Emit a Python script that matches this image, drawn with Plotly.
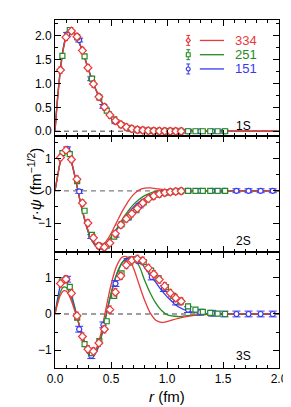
import plotly.graph_objects as go
from plotly.subplots import make_subplots

W, H = 291, 407
ML, MR, MT, MB = 47, 12, 11, 47
PW, PH = W - ML - MR, H - MT - MB

RED, GREEN, BLUE = '#e8393b', '#238b23', '#3838ee'
series_labels = ['334', '251', '151']
colors = [RED, GREEN, BLUE]

# ---- curve grid (fm) ----
r_curve = [0, 0.025, 0.05, 0.075, 0.1, 0.125, 0.15, 0.175, 0.2, 0.225, 0.25, 0.275, 0.3, 0.325,
           0.35, 0.375, 0.4, 0.425, 0.45, 0.475, 0.5, 0.55, 0.6, 0.65, 0.7, 0.75, 0.8, 0.85, 0.9,
           0.95, 1.0, 1.1, 1.2, 1.3, 1.4, 1.5, 2.0]

# 1S curves
c1_red = [0, 0.72, 1.30, 1.72, 1.97, 2.09, 2.10, 2.05, 1.95, 1.81, 1.65, 1.47, 1.29, 1.12, 0.96, 0.82, 0.69, 0.58, 0.48, 0.39, 0.32,
          0.20, 0.12, 0.075, 0.045, 0.027, 0.016, 0.009, 0.005, 0.003, 0.002, 0.001, 0, 0, 0, 0, 0]
c1_green = [0, 0.74, 1.32, 1.74, 1.99, 2.11, 2.11, 2.06, 1.95, 1.81, 1.65, 1.47, 1.29, 1.12, 0.96, 0.82, 0.69, 0.58, 0.48, 0.39, 0.32,
            0.20, 0.12, 0.075, 0.045, 0.027, 0.016, 0.009, 0.005, 0.003, 0.002, 0.001, 0, 0, 0, 0, 0]
c1_blue = [0, 0.76, 1.35, 1.76, 2.00, 2.12, 2.11, 2.05, 1.94, 1.80, 1.64, 1.46, 1.28, 1.11, 0.95, 0.81, 0.68, 0.57, 0.47, 0.39, 0.31,
           0.20, 0.12, 0.075, 0.045, 0.027, 0.016, 0.009, 0.005, 0.003, 0.002, 0.001, 0, 0, 0, 0, 0]
# 2S curves
c2_red = [0, 0.48, 0.92, 1.17, 1.22, 1.10, 0.84, 0.48, 0.08, -0.32, -0.68, -1.00, -1.27, -1.47, -1.61, -1.69, -1.71, -1.68, -1.60, -1.48, -1.33,
          -0.98, -0.64, -0.35, -0.12, 0.02, 0.08, 0.09, 0.07, 0.045, 0.025, 0.008, 0.002, 0, 0, 0, 0]
c2_green = [0, 0.49, 0.94, 1.19, 1.24, 1.12, 0.85, 0.49, 0.09, -0.32, -0.69, -1.02, -1.30, -1.50, -1.64, -1.72, -1.74, -1.72, -1.66, -1.56, -1.44,
            -1.18, -0.90, -0.64, -0.43, -0.27, -0.15, -0.07, -0.02, 0.005, 0.012, 0.008, 0.003, 0, 0, 0, 0]
c2_blue = [0, 0.50, 0.96, 1.21, 1.27, 1.15, 0.87, 0.50, 0.08, -0.34, -0.71, -1.04, -1.32, -1.52, -1.66, -1.73, -1.75, -1.74, -1.68, -1.58, -1.46,
           -1.21, -0.95, -0.71, -0.51, -0.35, -0.23, -0.14, -0.08, -0.045, -0.025, -0.008, -0.002, 0, 0, 0, 0]
# 3S curves
c3_red = [0, 0.30, 0.53, 0.64, 0.63, 0.52, 0.33, 0.10, -0.15, -0.40, -0.64, -0.85, -0.99, -1.06, -1.04, -0.91, -0.66, -0.32, 0.07, 0.45, 0.80,
          1.32, 1.57, 1.56, 1.27, 0.82, 0.38, 0.03, -0.17, -0.23, -0.21, -0.12, -0.06, -0.025, -0.01, 0, 0]
c3_green = [0, 0.36, 0.62, 0.74, 0.73, 0.61, 0.41, 0.16, -0.11, -0.39, -0.66, -0.89, -1.05, -1.12, -1.10, -0.98, -0.76, -0.46, -0.11, 0.24, 0.57,
            1.10, 1.42, 1.55, 1.53, 1.33, 0.93, 0.58, 0.30, 0.10, -0.02, -0.07, -0.04, -0.02, -0.005, 0, 0]
c3_blue = [0, 0.45, 0.80, 0.93, 0.90, 0.75, 0.50, 0.21, -0.10, -0.42, -0.72, -0.96, -1.12, -1.18, -1.14, -1.01, -0.79, -0.49, -0.14, 0.21, 0.54,
           1.08, 1.42, 1.56, 1.58, 1.50, 1.28, 1.08, 0.87, 0.66, 0.48, 0.20, 0.07, 0.02, 0.005, 0, 0]

# ---- data points ----
r_red = [0.049, 0.098, 0.147, 0.196, 0.245, 0.294, 0.343, 0.392, 0.441, 0.490, 0.539, 0.588, 0.637, 0.686,
         0.735, 0.784, 0.833, 0.882, 0.931, 0.980, 1.029, 1.078, 1.127]
r_green = [0.066, 0.132, 0.198, 0.264, 0.330, 0.396, 0.462, 0.528, 0.594, 0.660, 0.726, 0.792, 0.858, 0.924,
           0.990, 1.056, 1.122, 1.188, 1.254, 1.320, 1.386, 1.452, 1.518]
r_blue = [0.108, 0.216, 0.324, 0.432, 0.540, 0.648, 0.756, 0.864, 0.972, 1.080, 1.188, 1.296, 1.404, 1.512,
          1.620, 1.728, 1.836, 1.944]

p1_red = [1.28, 1.97, 2.10, 1.98, 1.69, 1.33, 0.99, 0.72, 0.51, 0.34, 0.22, 0.14, 0.085, 0.05, 0.03, 0.02, 0.012, 0.007, 0.004, 0.002, 0.001, 0, 0]
p1_green = [1.58, 2.12, 1.97, 1.57, 1.10, 0.71, 0.43, 0.25, 0.13, 0.07, 0.035, 0.018, 0.009, 0.004, 0.002, 0.001, 0, 0, 0, 0, 0, 0, 0]
p1_blue = [2.03, 1.91, 1.10, 0.52, 0.20, 0.07, 0.025, 0.008, 0.002, 0, 0, 0, 0, 0]

p2_red = [1.03, 1.26, 0.97, 0.36, -0.38, -1.00, -1.46, -1.71, -1.75, -1.62, -1.33, -1.06, -0.87, -0.71, -0.55, -0.38, -0.25, -0.16, -0.10, -0.06, -0.035, -0.02, -0.01]
p2_green = [1.17, 1.14, 0.30, -0.62, -1.37, -1.71, -1.70, -1.42, -1.04, -0.80, -0.60, -0.36, -0.20, -0.11, -0.05, -0.025, -0.01, -0.005, 0, 0, 0, 0, 0]
p2_blue = [1.30, -0.02, -1.42, -1.75, -1.38, -0.85, -0.47, -0.19, -0.07, -0.02, -0.005, 0, 0, 0, 0, 0, 0, 0]

p3_red = [0.84, 0.96, 0.57, -0.05, -0.62, -0.97, -1.03, -0.80, -0.42, 0.12, 0.60, 1.05, 1.35, 1.48, 1.52, 1.47, 1.27, 1.10, 0.95, 0.77, 0.58, 0.44, 0.35]
p3_green = [0.93, 0.75, -0.10, -0.83, -1.08, -0.75, -0.20, 0.50, 1.12, 1.42, 1.50, 1.43, 1.20, 0.98, 0.74, 0.50, 0.34, 0.21, 0.12, 0.06, 0.03, 0.01, 0]
p3_blue = [0.96, -0.42, -1.15, -0.30, 0.84, 1.45, 1.47, 1.02, 0.70, 0.33, 0.12, 0.05, 0.02, 0, 0, 0, 0, 0]

# error bar half-heights per panel (red, green, blue)
err = {1: (0.07, 0.04, 0.04), 2: (0.10, 0.06, 0.06), 3: (0.10, 0.06, 0.08)}
panel_names = ['1S', '2S', '3S']

curves = {1: (c1_red, c1_green, c1_blue), 2: (c2_red, c2_green, c2_blue), 3: (c3_red, c3_green, c3_blue)}
points = {1: (p1_red, p1_green, p1_blue), 2: (p2_red, p2_green, p2_blue), 3: (p3_red, p3_green, p3_blue)}
r_pts = (r_red, r_green, r_blue)
symbols = ('diamond', 'square', 'circle')
msizes = (6, 5, 5)
capw = (2, 2, 4)

FONT = 'Liberation Sans, Arial'

fig = make_subplots(rows=3, cols=1, shared_xaxes=True, vertical_spacing=0)

for p in (1, 2, 3):
    for i in (2, 1, 0):
        fig.add_trace(go.Scatter(x=r_curve, y=curves[p][i], mode='lines',
                                 line=dict(color=colors[i], width=1.3, shape='spline'),
                                 showlegend=False, hoverinfo='skip'), row=p, col=1)
    for i in (2, 1, 0):
        ys = points[p][i]
        fig.add_trace(go.Scatter(x=r_pts[i][:len(ys)], y=ys, mode='markers',
                                 marker=dict(symbol=symbols[i], size=msizes[i], color='white',
                                             line=dict(color=colors[i], width=1.2)),
                                 error_y=dict(type='constant', value=err[p][i], color=colors[i],
                                              thickness=1, width=capw[i]),
                                 showlegend=False, hoverinfo='skip'), row=p, col=1)

tickfont = dict(family=FONT, size=12, color='black')
axis_common = dict(showline=True, linecolor='black', linewidth=1, mirror='ticks', ticks='inside',
                   ticklen=6, tickwidth=1, tickcolor='black', showgrid=False, zeroline=False,
                   tickfont=tickfont)
for p in (1, 2, 3):
    fig.update_xaxes(range=[0, 2.0], dtick=0.5, tick0=0, tickformat='.1f',
                     minor=dict(dtick=0.1, ticklen=3, ticks='inside', tickcolor='black'),
                     showticklabels=(p == 3), row=p, col=1, **axis_common)

fig.update_yaxes(range=[-0.1, 2.33], dtick=0.5, tick0=0, tickformat='.1f',
                 minor=dict(dtick=0.25, ticklen=3, ticks='inside', tickcolor='black'),
                 row=1, col=1, **axis_common)
fig.update_yaxes(range=[-1.9, 1.7], dtick=1, tick0=0,
                 minor=dict(dtick=0.5, ticklen=3, ticks='inside', tickcolor='black'),
                 row=2, col=1, **axis_common)
fig.update_yaxes(range=[-1.49, 1.71], dtick=1, tick0=0,
                 minor=dict(dtick=0.5, ticklen=3, ticks='inside', tickcolor='black'),
                 row=3, col=1, **axis_common)

third = 1 / 3
fig.update_layout(yaxis=dict(domain=[2 * third, 1]), yaxis2=dict(domain=[third, 2 * third]),
                  yaxis3=dict(domain=[0, third]))

shapes = []
annotations = []
for p, (xr, yr) in enumerate([('x', 'y'), ('x2', 'y2'), ('x3', 'y3')], start=1):
    shapes.append(dict(type='line', xref=xr + ' domain', yref=yr, x0=0, x1=1, y0=0, y1=0,
                       line=dict(color='#808080', width=1.3, dash='5px,4px'), layer='below'))
    lab_y = {1: 0.12, 2: -1.55, 3: -1.16}[p]
    annotations.append(dict(text=panel_names[p - 1], x=1.68, y=lab_y, xref=xr, yref=yr,
                            showarrow=False, font=dict(family=FONT, size=12, color='black')))


def px2paper(px, py):
    return (px - ML) / PW, (H - MB - py) / PH


# legend (decoration)
leg_rows = (31.5, 45.8, 60.1)
for i in range(3):
    py = leg_rows[i]
    mx, my = px2paper(185, py)
    _, y_top = px2paper(185, py - 5)
    _, y_bot = px2paper(185, py + 5)
    shapes.append(dict(type='line', xref='paper', yref='paper', x0=mx, x1=mx, y0=y_bot, y1=y_top,
                       line=dict(color=colors[i], width=1)))
    for yy in (y_top, y_bot):
        xl, _ = px2paper(183, py)
        xr_, _ = px2paper(187, py)
        shapes.append(dict(type='line', xref='paper', yref='paper', x0=xl, x1=xr_, y0=yy, y1=yy,
                           line=dict(color=colors[i], width=1)))
    if i == 0:
        pts = [px2paper(185, py - 2.5), px2paper(187.2, py), px2paper(185, py + 2.5), px2paper(182.8, py)]
        path = 'M {} {} L {} {} L {} {} L {} {} Z'.format(*[v for pt in pts for v in pt])
        shapes.append(dict(type='path', xref='paper', yref='paper', path=path,
                           fillcolor='white', line=dict(color=colors[i], width=1.1)))
    elif i == 1:
        x0, y0 = px2paper(183, py + 2)
        x1, y1 = px2paper(187, py - 2)
        shapes.append(dict(type='rect', xref='paper', yref='paper', x0=x0, x1=x1, y0=y0, y1=y1,
                           fillcolor='white', line=dict(color=colors[i], width=1.1)))
    else:
        x0, y0 = px2paper(183, py + 2)
        x1, y1 = px2paper(187, py - 2)
        shapes.append(dict(type='circle', xref='paper', yref='paper', x0=x0, x1=x1, y0=y0, y1=y1,
                           fillcolor='white', line=dict(color=colors[i], width=1.1)))
    lx0, ly = px2paper(197, py)
    lx1, _ = px2paper(222, py)
    shapes.append(dict(type='line', xref='paper', yref='paper', x0=lx0, x1=lx1, y0=ly, y1=ly,
                       line=dict(color=colors[i], width=1.3)))
    tx, ty = px2paper(245, py)
    annotations.append(dict(text=series_labels[i], x=tx, y=ty, xref='paper', yref='paper',
                            showarrow=False, xanchor='center', yanchor='middle',
                            font=dict(family=FONT, size=13, color=colors[i])))

yt_x, yt_y = px2paper(26, 176)
annotations.append(dict(text='<i>r</i>·<i>ψ</i> (fm<sup>−1/2</sup>)', x=yt_x, y=yt_y, xref='paper',
                        yref='paper', showarrow=False, textangle=-90, xanchor='center', yanchor='middle',
                        font=dict(family=FONT, size=15, color='black')))
xt_x, xt_y = px2paper(163, 389)
annotations.append(dict(text='<i>r</i> (fm)', x=xt_x, y=xt_y, xref='paper', yref='paper',
                        showarrow=False, xanchor='center', yanchor='middle',
                        font=dict(family=FONT, size=15, color='black')))

fig.update_layout(width=W, height=H, margin=dict(l=ML, r=MR, t=MT, b=MB, pad=0),
                  paper_bgcolor='white', plot_bgcolor='white', showlegend=False,
                  shapes=shapes, annotations=annotations,
                  font=dict(family=FONT, size=12, color='black'))

fig.write_html('out.html')
